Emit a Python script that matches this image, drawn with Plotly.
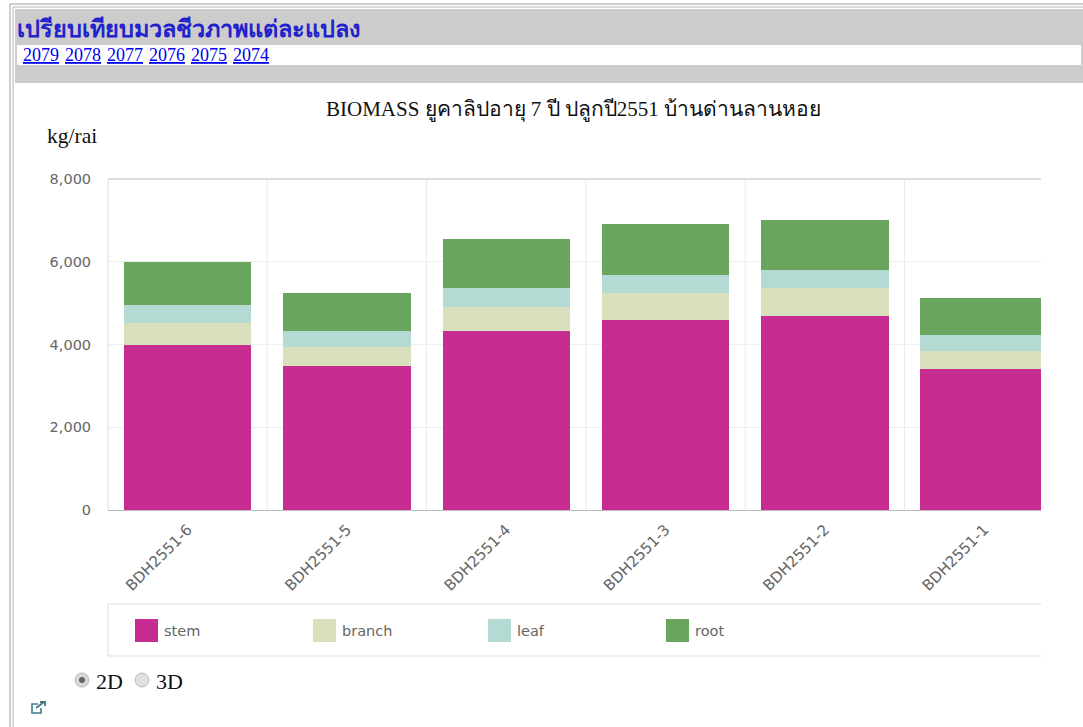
import plotly.graph_objects as go

categories = ["BDH2551-6", "BDH2551-5", "BDH2551-4", "BDH2551-3", "BDH2551-2", "BDH2551-1"]
stem = [3990, 3480, 4330, 4590, 4690, 3410]
branch = [530, 460, 580, 650, 680, 430]
leaf = [430, 390, 460, 440, 430, 390]
root = [1040, 920, 1180, 1230, 1210, 890]
series_names = ["stem", "branch", "leaf", "root"]
series_values = [stem, branch, leaf, root]
series_colors = ["#C72C91", "#D9E0BE", "#B5DAD3", "#69A55D"]
y_ticks = [0, 2000, 4000, 6000, 8000]
year_links = ["2079", "2078", "2077", "2076", "2075", "2074"]
header_title = "เปรียบเทียบมวลชีวภาพแต่ละแปลง"
chart_title = "BIOMASS ยูคาลิปอายุ 7 ปี ปลูกปี2551 บ้านด่านลานหอย"

W, H = 1083, 727
L, R, T, B = 108, 1041, 179, 510
SERIF = "Liberation Serif"
SANS = "DejaVu Sans"


def px(v):
    return (v - L) / (R - L)


def py(v):
    return (B - v) / (B - T)


shapes, annotations = [], []


def rect(x0, y0, x1, y1, fill=None, line=None, lw=1, layer="below", kind="rect"):
    shapes.append(dict(type=kind, xref="paper", yref="paper", x0=px(x0), x1=px(x1),
                       y0=py(y0), y1=py(y1), fillcolor=fill, layer=layer,
                       line=dict(color=line, width=lw if line else 0)))


def text(x, y, s, size, color="#111", family=SERIF, anchor="left"):
    annotations.append(dict(xref="paper", yref="paper", x=px(x), y=py(y), text=s, showarrow=False,
                            xanchor=anchor, yanchor="middle", borderpad=0,
                            font=dict(size=size, color=color, family=family)))


# page frame and header
rect(10, 4, W + 2, H + 4, line="#a0a0a0", lw=1)
rect(13, 7, W + 2, H + 4, line="#b8b8b8", lw=1)
rect(15, 9, W, 83, fill="#CCCCCC")
rect(17, 45, 1081, 65, fill="#FFFFFF")
text(16, 29, f"<b>{header_title}</b>", 23.5, color="#2222CC")
link_x = 21
for y_label in year_links:
    annotations.append(dict(xref="paper", yref="paper", x=px(link_x), y=py(55),
                            text=y_label, showarrow=False, xanchor="left", yanchor="middle",
                            font=dict(size=18, color="#0000EE", family=SERIF, lineposition="under")))
    link_x += 42

# chart texts
text(573, 109, chart_title, 21, anchor="center")
text(46, 136, "kg/rai", 21.5)

# vertical grid lines between categories, chart frame
for i in range(len(categories) - 1):
    shapes.append(dict(type="line", xref="x", yref="paper", x0=i + 0.5, x1=i + 0.5, y0=0, y1=1,
                       layer="below", line=dict(color="#EAEAEA", width=1)))
shapes.append(dict(type="line", xref="paper", yref="paper", x0=0, x1=1, y0=1, y1=1,
                   layer="below", line=dict(color="#DDDDDD", width=2)))
shapes.append(dict(type="line", xref="paper", yref="paper", x0=0, x1=0, y0=0, y1=1,
                   layer="below", line=dict(color="#DDDDDD", width=1)))

# legend panel
rect(108, 604, 1060, 656, fill="#FFFFFF", line="#DDDDDD", lw=1)
rect(1041, 596, W, 664, fill="#FFFFFF", line=None, layer="above")
legend_x = [135, 313, 488, 666]
for name, color, x in zip(series_names, series_colors, legend_x):
    rect(x, 619, x + 23, 642, fill=color)
    text(x + 28, 631, name, 14.5, color="#666666", family=SANS)

# radios and icon
rect(75, 673, 89, 687, fill="#D8D8D8", line="#BBBBBB", kind="circle")
rect(79, 677, 85, 683, fill="#666666", kind="circle")
rect(135, 673, 149, 687, fill="#E0E0E0", line="#BBBBBB", kind="circle")
text(95, 681, "2D", 22)
text(155, 681, "3D", 22)
shapes.append(dict(type="path", xref="paper", yref="paper", layer="above",
                   path=f"M {px(38)} {py(704)} L {px(32)} {py(704)} L {px(32)} {py(713)} "
                        f"L {px(41)} {py(713)} L {px(41)} {py(708)}",
                   line=dict(color="#3D7A8A", width=1.6)))
shapes.append(dict(type="path", xref="paper", yref="paper", layer="above",
                   path=f"M {px(36)} {py(708)} L {px(44)} {py(702)} M {px(40)} {py(702)} "
                        f"L {px(45)} {py(702)} L {px(45)} {py(706)}",
                   line=dict(color="#3D7A8A", width=1.8)))

fig = go.Figure()
for name, values, color in zip(series_names, series_values, series_colors):
    fig.add_bar(name=name, x=categories, y=values, marker=dict(color=color, line=dict(width=0)))

fig.update_layout(
    barmode="stack", bargap=0.2, width=W, height=H, showlegend=False,
    margin=dict(l=L, r=W - R, t=T, b=H - B, pad=0),
    paper_bgcolor="#FFFFFF", plot_bgcolor="#FFFFFF",
    shapes=shapes, annotations=annotations,
    font=dict(family=SANS, color="#666666", size=13),
)
fig.update_xaxes(type="category", range=[-0.5, 5.357], tickangle=-45, showgrid=False,
                 showline=True, linecolor="#BBBBBB", linewidth=1, ticks="outside", ticklen=4,
                 tickcolor="rgba(0,0,0,0)", tickfont=dict(size=15, color="#666666", family=SANS))
fig.update_yaxes(range=[0, 8000], tickvals=y_ticks, tickformat=",d", showgrid=True, gridcolor="#EEEEEE",
                 gridwidth=1, zeroline=False, showline=False, ticks="outside", ticklen=13,
                 tickcolor="rgba(0,0,0,0)", tickfont=dict(size=14.5, color="#666666", family=SANS))

fig.write_html("out.html", config={"displayModeBar": False},
               post_script="document.body.style.margin='0';document.body.style.overflow='hidden';")
